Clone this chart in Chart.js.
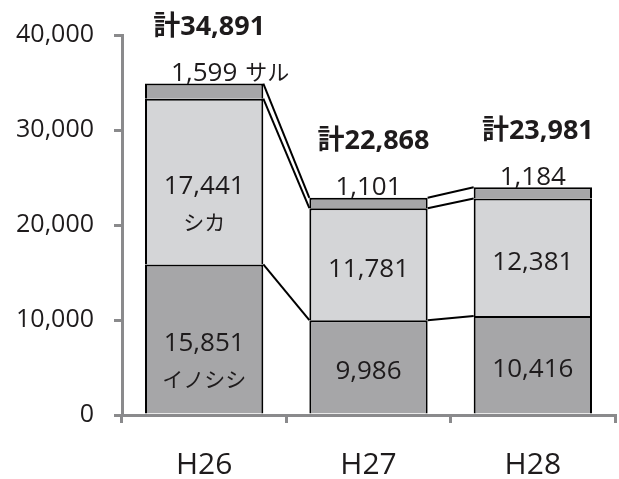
<!DOCTYPE html>
<html>
<head>
<meta charset="utf-8">
<script src="https://cdn.jsdelivr.net/npm/chart.js@4/dist/chart.umd.min.js"></script>
<style>
  html, body { margin: 0; padding: 0; background: #fff; }
  #wrap { width: 619px; height: 479px; }
</style>
</head>
<body>
<div id="wrap"><canvas id="damageChart" width="619" height="479"></canvas></div>
<script>
const years = ['H26', 'H27', 'H28'];
const seriesNames = ['イノシシ', 'シカ', 'サル'];
const inoshishi = [15851, 9986, 10416];
const shika = [17441, 11781, 12381];
const saru = [1599, 1101, 1184];
const yTicks = [0, 10000, 20000, 30000, 40000];

const FONT = "'Open Sans', 'Noto Sans CJK JP', sans-serif";
const TEXT = '#1e1b1c';
const AXIS = '#8a8a8c';
const darkGray = '#a6a6a8';
const lightGray = '#d4d5d7';

const fmt = v => v.toLocaleString('en-US');

// connector lines between stacks + value / total labels
const stackLabels = {
  id: 'stackLabels',
  afterDatasetsDraw(chart) {
    const ctx = chart.ctx;
    const metas = chart.data.datasets.map((_, d) => chart.getDatasetMeta(d));

    ctx.save();
    ctx.strokeStyle = '#000';
    ctx.lineWidth = 2;
    metas.forEach(meta => {
      for (let i = 0; i < meta.data.length - 1; i++) {
        const a = meta.data[i], b = meta.data[i + 1];
        ctx.beginPath();
        ctx.moveTo(a.x + a.width / 2, a.y);
        ctx.lineTo(b.x - b.width / 2, b.y);
        ctx.stroke();
      }
    });

    ctx.fillStyle = TEXT;
    ctx.textBaseline = 'middle';

    // inside labels for the two big segments
    [0, 1].forEach(d => {
      const values = chart.data.datasets[d].data;
      metas[d].data.forEach((bar, i) => {
        const cy = (bar.y + bar.base) / 2 + 5;
        ctx.font = '26px ' + FONT;
        ctx.textAlign = 'center';
        ctx.fillText(fmt(values[i]), bar.x, cy);
        if (i === 0) {
          ctx.font = '21px ' + FONT;
          ctx.fillText(seriesNames[d], bar.x, cy + 37);
        }
      });
    });

    // small top segment labelled above the bar
    metas[2].data.forEach((bar, i) => {
      const y = bar.y - 10;
      ctx.font = '26px ' + FONT;
      ctx.textAlign = 'center';
      const txt = fmt(saru[i]);
      ctx.fillText(txt, bar.x, y);
      if (i === 0) {
        const w = ctx.measureText(txt).width;
        ctx.font = '22px ' + FONT;
        ctx.textAlign = 'left';
        ctx.fillText(seriesNames[2], bar.x + w / 2 + 8, y);
      }
    });

    // totals
    ctx.font = 'bold 27px ' + FONT;
    ctx.textAlign = 'center';
    metas[2].data.forEach((bar, i) => {
      const total = inoshishi[i] + shika[i] + saru[i];
      ctx.fillText('計' + fmt(total), bar.x + 5, bar.y - 56);
    });
    ctx.restore();
  }
};

const common = {
  borderColor: '#000',
  borderWidth: 2,
  borderSkipped: 'bottom',
  barPercentage: 0.72,
  categoryPercentage: 1.0
};

new Chart(document.getElementById('damageChart'), {
  type: 'bar',
  data: {
    labels: years,
    datasets: [
      { label: seriesNames[0], data: inoshishi, backgroundColor: darkGray, ...common },
      { label: seriesNames[1], data: shika, backgroundColor: lightGray, ...common },
      { label: seriesNames[2], data: saru, backgroundColor: darkGray, ...common }
    ]
  },
  options: {
    responsive: false,
    animation: false,
    layout: { padding: { top: 33, right: 4, bottom: 0, left: 0 } },
    plugins: {
      legend: { display: false },
      tooltip: { enabled: false }
    },
    scales: {
      x: {
        stacked: true,
        offset: true,
        afterFit: s => { s.height = 64; },
        border: { display: true, color: AXIS, width: 3 },
        grid: { offset: true, drawOnChartArea: false, drawTicks: true, tickLength: 8, color: AXIS, lineWidth: 3 },
        ticks: { color: TEXT, padding: 24, font: { family: FONT, size: 30 } }
      },
      y: {
        stacked: true,
        min: 0,
        max: 40000,
        afterFit: s => { s.width = 122; },
        afterBuildTicks: s => { s.ticks = yTicks.map(v => ({ value: v })); },
        border: { display: true, color: AXIS, width: 3 },
        grid: { drawOnChartArea: false, drawTicks: true, tickLength: 8, color: AXIS, lineWidth: 3 },
        ticks: { color: TEXT, padding: 20, font: { family: FONT, size: 25 }, callback: v => fmt(v) }
      }
    }
  },
  plugins: [stackLabels]
});
</script>
</body>
</html>
